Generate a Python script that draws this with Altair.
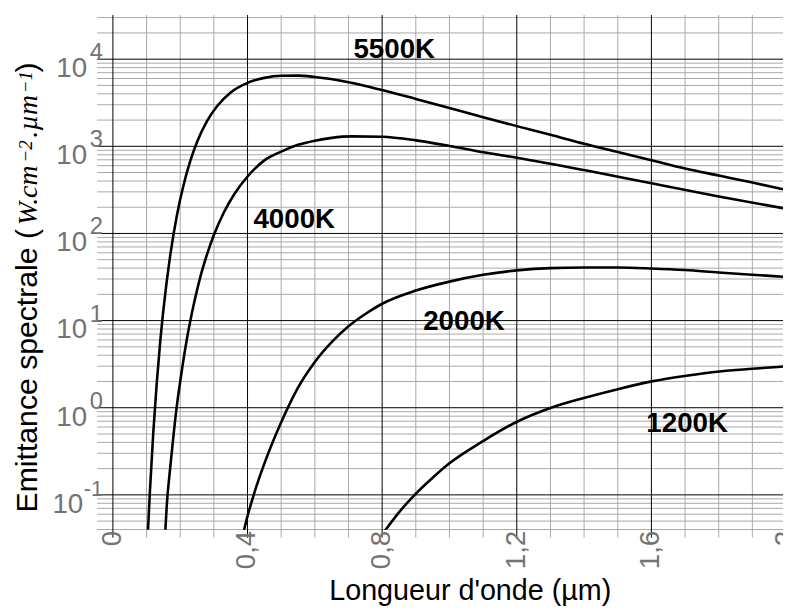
import altair as alt
import pandas as pd

# ---- curve values (wavelength in µm, emittance in W/cm²/µm)
lam_5500 = [0.102, 0.11, 0.12, 0.13, 0.14, 0.15, 0.17, 0.19, 0.21, 0.23, 0.25, 0.28, 0.31,
            0.35, 0.4, 0.45, 0.5, 0.55, 0.6, 0.7, 0.8, 0.9, 1.0, 1.1, 1.2, 1.3, 1.4, 1.5,
            1.6, 1.7, 1.8, 1.9, 1.991]
val_5500 = [0.026, 0.11, 0.52, 1.85, 5.4, 13.2, 55, 160, 360, 680, 1120, 1960, 2900,
            4150, 5350, 6100, 6460, 6480, 6250, 5450, 4420, 3500, 2760, 2160, 1705, 1357, 1072, 862,
            694, 557, 462, 384, 321]

lam_4000 = [0.155, 0.16, 0.17, 0.18, 0.19, 0.2, 0.22, 0.24, 0.26, 0.28, 0.3, 0.33, 0.36,
            0.4, 0.45, 0.5, 0.55, 0.6, 0.65, 0.71, 0.8, 0.9, 1.0, 1.1, 1.2, 1.4, 1.6, 1.8, 1.991]
val_4000 = [0.034, 0.075, 0.2, 0.48, 1.05, 2.0, 6.2, 15.2, 32, 58, 96, 175, 280,
            450, 690, 870, 1040, 1160, 1250, 1300, 1285, 1170, 1010, 855, 740, 534, 376, 266, 195]

lam_2000 = [0.385, 0.4, 0.42, 0.45, 0.5, 0.55, 0.6, 0.65, 0.7, 0.75, 0.8, 0.9, 1.0,
            1.1, 1.2, 1.3, 1.4, 1.5, 1.6, 1.7, 1.8, 1.9, 1.991]
val_2000 = [0.033, 0.057, 0.105, 0.228, 0.68, 1.70, 3.35, 5.65, 8.6, 11.9, 15.6, 22.1, 28.0,
            33.5, 37.7, 40.0, 40.6, 40.6, 39.6, 38.0, 35.6, 33.6, 31.9]

lam_1200 = [0.79, 0.85, 0.8965, 0.95, 0.998, 1.101, 1.202, 1.302, 1.402, 1.503, 1.601,
            1.704, 1.802, 1.9, 1.991]
val_1200 = [0.031, 0.063, 0.1, 0.157, 0.227, 0.417, 0.695, 1.0, 1.30, 1.644, 2.006,
            2.33, 2.606, 2.797, 2.97]

# curve labels (anchor in data coordinates)
lab_text = ["5500K", "4000K", "2000K", "1200K"]
lab_x = [0.7147, 0.4176, 0.922, 1.585]
lab_y = [10350, 114, 7.76, 0.52]

# axis ticks / grid
x_major = [0.0, 0.4, 0.8, 1.2, 1.6, 2.0]
x_major_labels = ["0", "0,4", "0,8", "1,2", "1,6", "2"]
x_minor = [0.1, 0.2, 0.3, 0.5, 0.6, 0.7, 0.9, 1.0, 1.1, 1.3, 1.4, 1.5, 1.7, 1.8, 1.9]
y_major = [1e4, 1e3, 1e2, 10, 1]
y_major_exp = ["4", "3", "2", "1", "0"]
y_neg = [0.1]
y_neg_exp = ["-1"]
y_base_text = "10"
Y_MIN, Y_MAX = 0.0398, 32100
y_minor = [m * 10.0 ** k for k in range(-2, 5) for m in range(2, 10)
           if Y_MIN <= m * 10.0 ** k <= Y_MAX]

rows = []
for name, lams, vals in [("5500K", lam_5500, val_5500), ("4000K", lam_4000, val_4000),
                         ("2000K", lam_2000, val_2000), ("1200K", lam_1200, val_1200)]:
    for l, v in zip(lams, vals):
        rows.append({"T": name, "x": l, "y": v})
df_curves = pd.DataFrame(rows)
df_labels = pd.DataFrame({"t": lab_text, "x": lab_x, "y": lab_y})
df_xmaj = pd.DataFrame({"x": x_major, "t": x_major_labels})
df_xmaj_grid = df_xmaj[df_xmaj["x"] < 1.99]
df_xmin = pd.DataFrame({"x": x_minor})
df_ypos = pd.DataFrame({"y": y_major, "b": y_base_text, "e": y_major_exp})
df_yneg = pd.DataFrame({"y": y_neg, "b": y_base_text, "e": y_neg_exp})
df_ymaj = pd.concat([df_ypos, df_yneg], ignore_index=True)
df_ymin = pd.DataFrame({"y": y_minor})

FONT = "Liberation Sans"
SERIF = "Liberation Serif"
GRAY = "#737373"
MINOR = "#a8a8a8"
W, H = 693, 520

xscale = alt.Scale(domain=[-0.047, 1.991], nice=False, zero=False)
yscale = alt.Scale(type="log", domain=[Y_MIN, Y_MAX], nice=False)
X = alt.X("x:Q", scale=xscale, axis=None)
Y = alt.Y("y:Q", scale=yscale, axis=None)

# grid (vertical lines run 8px below the plot, like ticks)
vmin = alt.Chart(df_xmin).mark_rule(color=MINOR, strokeWidth=1).encode(
    x=X, y=alt.value(0), y2=alt.value(H + 8))
hmin = alt.Chart(df_ymin).mark_rule(color=MINOR, strokeWidth=1).encode(
    y=Y, x=alt.value(0), x2=alt.value(W))
vmaj = alt.Chart(df_xmaj_grid).mark_rule(color="black", strokeWidth=1).encode(
    x=X, y=alt.value(0), y2=alt.value(H + 8))
hmaj = alt.Chart(df_ymaj).mark_rule(color="black", strokeWidth=1).encode(
    y=Y, x=alt.value(0), x2=alt.value(W))

# tick labels
xlab = alt.Chart(df_xmaj).mark_text(
    font=FONT, fontSize=28, color=GRAY, angle=270, align="right", baseline="middle"
).encode(x=X, y=alt.value(H + 1), text="t:N")


def ylabels(df, base_x, exp_size):
    base = alt.Chart(df).mark_text(
        font=FONT, fontSize=28, color=GRAY, align="right", baseline="alphabetic", dy=18
    ).encode(y=Y, x=alt.value(base_x), text="b:N")
    exp = alt.Chart(df).mark_text(
        font=FONT, fontSize=exp_size, color=GRAY, align="right", baseline="alphabetic", dy=1
    ).encode(y=Y, x=alt.value(6), text="e:N")
    return [base, exp]


ylab = ylabels(df_ypos, -10, 24) + ylabels(df_yneg, -14, 22)

lines = alt.Chart(df_curves).mark_line(
    color="black", strokeWidth=2.6, interpolate="monotone", clip=True
).encode(x=X, y=Y, detail="T:N")

labels = alt.Chart(df_labels).mark_text(
    font=FONT, fontSize=28, fontWeight="bold", align="left", baseline="alphabetic", color="black"
).encode(x=X, y=Y, text="t:N")


def piece(txt, px, py, font, size, style="normal", angle=270, align="left"):
    return alt.Chart(pd.DataFrame({"t": [txt]})).mark_text(
        font=font, fontSize=size, fontStyle=style, angle=angle, align=align,
        baseline="alphabetic", color="black"
    ).encode(x=alt.value(px), y=alt.value(py), text="t:N")


titles = [
    piece("Emittance spectrale (", -60.5, 502.5, FONT, 30.5),
    piece("W.cm", -60.5, 212.5, SERIF, 28, "italic"),
    piece("\u22122", -66, 149, SERIF, 19, "italic"),
    piece(".\u00b5m", -60.5, 124, SERIF, 28, "italic"),
    piece("\u22121", -66, 79, SERIF, 19, "italic"),
    piece(")", -60.5, 58, FONT, 30.5),
    piece("Longueur d'onde (\u00b5m)", 377, 591, FONT, 29, angle=0, align="center"),
]

chart = alt.layer(
    vmin, hmin, vmaj, hmaj, lines, labels, xlab, *ylab, *titles
).properties(
    width=W, height=H,
    autosize=alt.AutoSizeParams(type="none"),
    padding={"left": 90, "top": 4, "right": 0, "bottom": 79},
    background="white",
).configure_view(strokeWidth=0)

chart.save("out.html", embed_options={"renderer": "svg", "actions": False})
